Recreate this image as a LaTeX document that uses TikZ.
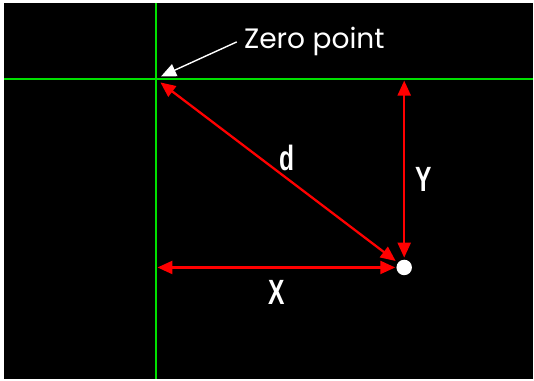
\documentclass[tikz,border=0pt]{standalone}
\usepackage{fontspec}
\setmainfont{Poppins}
\newfontfamily\axisfont{Liberation Sans}
\usetikzlibrary{arrows.meta}

\definecolor{gridgreen}{RGB}{0,225,0}
\definecolor{arrowred}{RGB}{255,0,0}

\tikzset{
  axis/.style={draw=gridgreen, line width=1.2pt},
  measure/.style={draw=arrowred, line width=1.3pt, <->},
  axislabel/.style={text=white, font=\axisfont\bfseries\fontsize{20}{20}\selectfont, inner sep=0pt},
}

\begin{document}
\begin{tikzpicture}[x=0.02cm, y=-0.02cm, >={Triangle[length=0.3cm,width=0.26cm]}]
  \fill[white] (0,0) rectangle (534,380);
  \fill[black] (4,3) rectangle (534,380);
  % grid through the zero point
  \coordinate (zero) at (156,79);
  \draw[axis] (156,3) -- (156,380);
  \draw[axis] (4,79) -- (534,79);
  % the point
  \node[circle, fill=white, inner sep=0pt, minimum size=0.31cm] (pt) at (405,268) {};
  \coordinate (ytop) at (pt |- zero);
  \coordinate (xleft) at (zero |- pt);
  \draw[measure, shorten <=3.4pt, shorten >=1.5pt] (zero) -- (pt);
  \draw[measure, shorten <=1pt, shorten >=1pt] (ytop) -- (pt);
  \draw[measure, shorten <=1pt, shorten >=0.5pt] (xleft) -- (pt);
  \node[axislabel] (dlab) at (288,158) {\scalebox{0.7}[1]{d}};
  \node[axislabel] (ylab) at (425,180) {\scalebox{0.7}[1]{Y}};
  \node[axislabel] (xlab) at (277,293) {\scalebox{0.7}[1]{X}};
  % zero point label
  \node[text=white, font=\fontsize{16}{16}\selectfont, inner sep=4pt] (zlab) at (315,42) {Zero point};
  \draw[white, line width=0.8pt, ->, shorten >=3.4pt] (zlab.west) -- (zero);
\end{tikzpicture}
\end{document}
